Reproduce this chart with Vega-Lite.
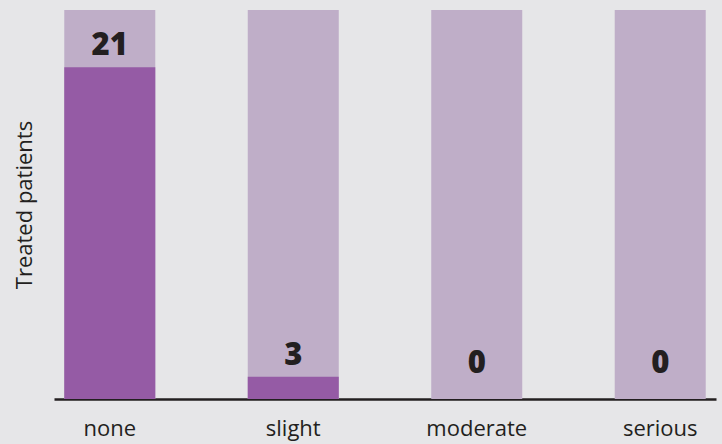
{
  "$schema": "https://vega.github.io/schema/vega-lite/v6.json",
  "width": 662,
  "height": 389,
  "autosize": {"type": "none"},
  "padding": {"left": 54, "top": 10, "right": 6, "bottom": 45},
  "background": "#e6e6e8",
  "config": {"view": {"stroke": null}},
  "data": {
    "values": [
      {"severity": "none", "count": 21, "share": 85.3},
      {"severity": "slight", "count": 3, "share": 5.7},
      {"severity": "moderate", "count": 0, "share": 0},
      {"severity": "serious", "count": 0, "share": 0}
    ]
  },
  "encoding": {
    "x": {
      "field": "severity",
      "type": "nominal",
      "sort": null,
      "scale": {"paddingInner": 0.504, "paddingOuter": 0.056},
      "axis": {
        "title": null,
        "labelAngle": 0,
        "ticks": false,
        "domainColor": "#231f20",
        "domainWidth": 2.5,
        "labelFont": "Open Sans",
        "labelFontSize": 22,
        "labelColor": "#231f20",
        "labelPadding": 19
      }
    }
  },
  "layer": [
    {
      "mark": {"type": "bar", "color": "#bfaec8"},
      "encoding": {
        "y": {
          "datum": 100,
          "type": "quantitative",
          "scale": {"domain": [0, 100], "nice": false},
          "axis": {
            "title": "Treated patients",
            "domain": false,
            "ticks": false,
            "labels": false,
            "grid": false,
            "titleFont": "Open Sans",
            "titleFontSize": 22,
            "titleFontWeight": "normal",
            "titleColor": "#231f20",
            "titlePadding": 18
          }
        }
      }
    },
    {
      "mark": {"type": "bar", "color": "#955ba5"},
      "encoding": {"y": {"field": "share", "type": "quantitative"}}
    },
    {
      "transform": [{"filter": "datum.count > 0"}],
      "mark": {
        "type": "text",
        "font": "Open Sans",
        "fontWeight": 800,
        "fontSize": 31,
        "color": "#231f20",
        "baseline": "alphabetic",
        "dy": -12
      },
      "encoding": {
        "y": {"field": "share", "type": "quantitative"},
        "text": {"field": "count", "type": "quantitative"}
      }
    },
    {
      "transform": [{"filter": "datum.count == 0"}],
      "mark": {
        "type": "text",
        "font": "Open Sans",
        "fontWeight": 800,
        "fontSize": 31,
        "color": "#231f20",
        "baseline": "alphabetic",
        "dy": -26
      },
      "encoding": {
        "y": {"field": "share", "type": "quantitative"},
        "text": {"field": "count", "type": "quantitative"}
      }
    }
  ]
}
